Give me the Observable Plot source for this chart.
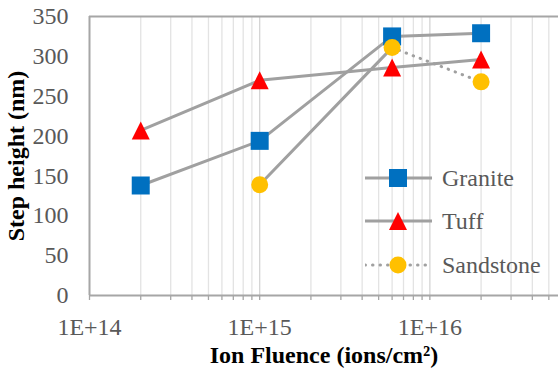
<!DOCTYPE html>
<html>
<head>
<meta charset="utf-8">
<script src="https://cdn.jsdelivr.net/npm/d3@7"></script>
<script src="https://cdn.jsdelivr.net/npm/@observablehq/plot@0.6"></script>
<style>
  html, body { margin: 0; padding: 0; background: #fff; }
  #wrap { position: relative; width: 558px; height: 370px; overflow: hidden; font-family: 'Liberation Serif'; }
  #legend { position: absolute; left: 365px; top: 156px; }
  .lrow { display: flex; align-items: center; height: 43.5px; }
  .lrow span { font-family: 'Liberation Serif'; font-size: 24px; color: #595959; margin-left: 10px; line-height: 1; }
</style>
</head>
<body>
<div id="wrap"></div>
<script>
// ---- data ----
const xDomain = [1e14, 5.7e16];
const yDomain = [0, 350];
const yTicks = [0, 50, 100, 150, 200, 250, 300, 350];
const xMajorTicks = [1e14, 1e15, 1e16];
const fluence = [2e14, 1e15, 6e15, 2e16];
const granite = [138, 194, 325, 329];
const tuff = [207, 270, 286, 296];
const sandstoneFluence = [1e15, 6e15, 2e16];
const sandstone = [139, 311, 268];
const seriesNames = ["Granite", "Tuff", "Sandstone"];
const seriesColors = ["#0070C0", "#FF0000", "#FFC000"];
const xTitle = "Ion Fluence (ions/cm²)";
const yTitle = "Step height (nm)";

// ---- build ----
const font = "Liberation Serif";
const lineColor = "#a0a0a0";
const axisColor = "#a6a6a6";
const graniteRows = fluence.map((x, i) => ({x, y: granite[i]}));
const tuffRows = fluence.map((x, i) => ({x, y: tuff[i]}));
const sandRows = sandstoneFluence.map((x, i) => ({x, y: sandstone[i]}));

const triangleSymbol = {
  draw(ctx, size) {
    const h = Math.sqrt(size) / 2;
    ctx.moveTo(0, -h); ctx.lineTo(h, h); ctx.lineTo(-h, h); ctx.closePath();
  }
};
const rSquare = 18 / Math.sqrt(Math.PI);

const allTicks = d3.scaleLog().domain(xDomain).ticks().filter(t => t >= xDomain[0] && t <= xDomain[1]);
const minorTicks = allTicks.filter(t => !xMajorTicks.includes(t));
const fmt = d => "1E+" + Math.round(Math.log10(d));

const chart = Plot.plot({
  width: 558, height: 370,
  marginLeft: 89, marginRight: 0, marginTop: 16, marginBottom: 75,
  x: {type: "log", domain: xDomain, axis: null},
  y: {domain: yDomain, axis: null},
  style: {fontFamily: font, background: "white", overflow: "visible"},
  marks: [
    Plot.ruleX(minorTicks, {stroke: "#e3e3e3", strokeWidth: 1.3}),
    Plot.ruleX(xMajorTicks.slice(1), {stroke: "#d4d4d4", strokeWidth: 1.3}),
    Plot.axisX({ticks: allTicks, tickSize: 5, tickFormat: () => "", label: null, stroke: axisColor, strokeWidth: 1.3}),
    Plot.axisX({ticks: xMajorTicks, tickSize: 0, tickPadding: 22, tickFormat: fmt, label: null, fill: "#595959", fontSize: 24, fontFamily: font}),
    Plot.axisY({ticks: yTicks, tickSize: 0, tickPadding: 21, label: null, fill: "#595959", fontSize: 24, fontFamily: font}),
    Plot.ruleY([yDomain[0]], {stroke: axisColor, strokeWidth: 2}),
    Plot.ruleY([yDomain[1]], {stroke: axisColor, strokeWidth: 2}),
    Plot.ruleX([xDomain[0]], {stroke: axisColor, strokeWidth: 2}),
    Plot.text([xTitle], {frameAnchor: "bottom", lineAnchor: "middle", textAnchor: "middle", dy: 60, fontSize: 24, fontWeight: "bold", fill: "#000", fontFamily: font}),
    Plot.text([yTitle], {frameAnchor: "left", lineAnchor: "middle", textAnchor: "middle", dx: -73, rotate: -90, fontSize: 24, fontWeight: "bold", fill: "#000", fontFamily: font}),
    // Granite
    Plot.line(graniteRows, {x: "x", y: "y", stroke: lineColor, strokeWidth: 3}),
    Plot.dot(graniteRows, {x: "x", y: "y", symbol: "square", r: rSquare, fill: seriesColors[0]}),
    // Tuff
    Plot.line(tuffRows, {x: "x", y: "y", stroke: lineColor, strokeWidth: 3}),
    Plot.dot(tuffRows, {x: "x", y: "y", symbol: triangleSymbol, r: rSquare, fill: seriesColors[1]}),
    // Sandstone
    Plot.line(sandRows.slice(0, 2), {x: "x", y: "y", stroke: lineColor, strokeWidth: 3}),
    Plot.line(sandRows.slice(1), {x: "x", y: "y", stroke: lineColor, strokeWidth: 3, strokeDasharray: "0.5 7", strokeLinecap: "round"}),
    Plot.dot(sandRows, {x: "x", y: "y", r: 8.5, fill: seriesColors[2]})
  ]
});

const wrap = document.getElementById("wrap");
wrap.appendChild(chart);

// ---- legend ----
const legend = document.createElement("div");
legend.id = "legend";
const markers = [
  c => `<rect x="24" y="3" width="18" height="18" fill="${c}"/>`,
  c => `<path d="M33,3L42,21L24,21Z" fill="${c}"/>`,
  c => `<circle cx="33" cy="12" r="8.5" fill="${c}"/>`
];
seriesNames.forEach((name, i) => {
  const dash = i === 2 ? `stroke-dasharray="0.5 7" stroke-linecap="round"` : "";
  const row = document.createElement("div");
  row.className = "lrow";
  row.innerHTML = `<svg width="67" height="24"><line x1="0" y1="12" x2="67" y2="12" stroke="${lineColor}" stroke-width="3" ${dash}/>${markers[i](seriesColors[i])}</svg><span>${name}</span>`;
  legend.appendChild(row);
});
wrap.appendChild(legend);
</script>
</body>
</html>
